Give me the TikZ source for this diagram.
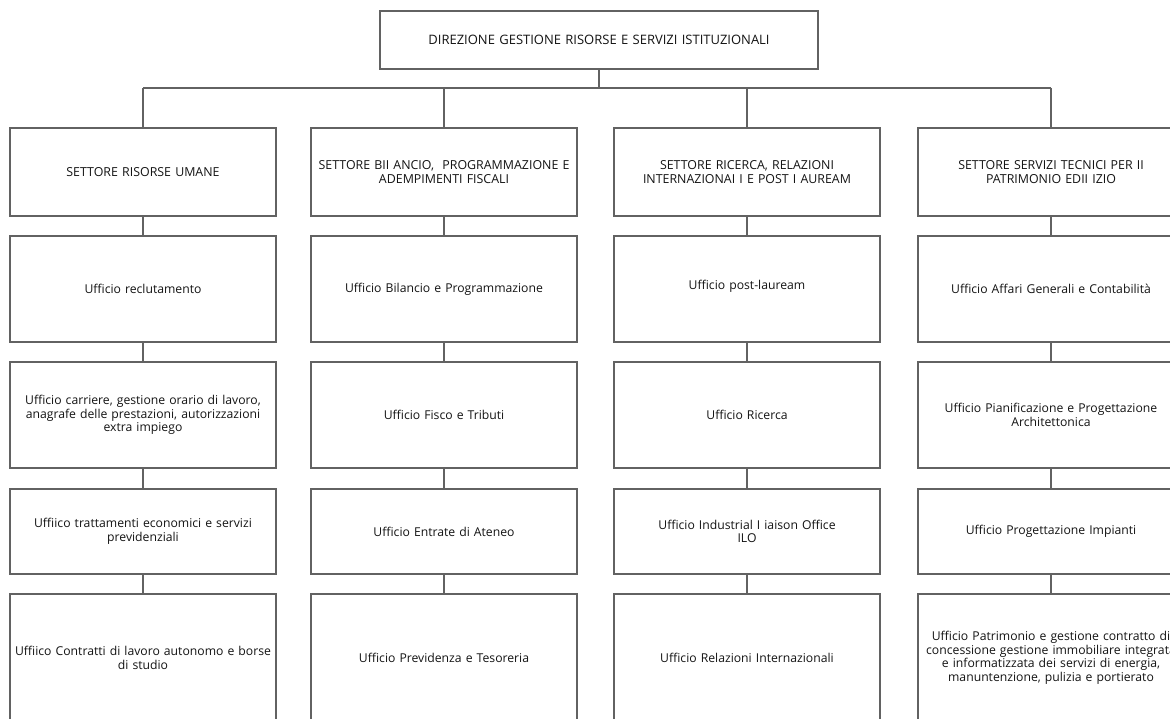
\documentclass[tikz,border=0pt]{standalone}
\usepackage{fontspec}
\setmainfont{Open Sans}
\definecolor{linegray}{HTML}{626262}
\definecolor{txt}{HTML}{141414}
\begin{document}
\begin{tikzpicture}[x=1pt,y=-1pt,
  box/.style={draw=linegray, line width=1.1pt, fill=white, minimum width=266pt, text width=266pt,
    inner sep=0pt, align=center, text=txt, font=\fontsize{12.2}{13.5}\selectfont},
  capbox/.style={box, font=\fontsize{12.4}{13.5}\selectfont},
  conn/.style={draw=linegray, line width=1.1pt}]
\useasboundingbox (0,0) rectangle (1170,719);
\clip (0,0) rectangle (1170,719);
\fill[white] (0,0) rectangle (1170,719);

% top box
\node[capbox, minimum width=438pt, text width=438pt, minimum height=58pt, font=\fontsize{13}{13.5}\selectfont] (top) at (599,40)
  {DIREZIONE GESTIONE RISORSE E SERVIZI ISTITUZIONALI};

% sector boxes
\node[capbox, minimum height=88pt] (s1) at (143,172) {SETTORE RISORSE UMANE};
\node[capbox, minimum height=88pt] (s2) at (444,172) {SETTORE BII ANCIO,\ \ PROGRAMMAZIONE E\\ADEMPIMENTI FISCALI};
\node[capbox, minimum height=88pt] (s3) at (747,172) {SETTORE RICERCA, RELAZIONI\\INTERNAZIONAI I E POST I AUREAM};
\node[capbox, minimum height=88pt] (s4) at (1051,172) {SETTORE SERVIZI TECNICI PER II\\PATRIMONIO EDII IZIO};

% row 1
\node[box, minimum height=106pt] (a1) at (143,289) {Ufficio reclutamento};
\node[box, minimum height=106pt] (a2) at (444,289) {Ufficio Bilancio e Programmazione};
\node[box, minimum height=106pt] (a3) at (747,289) {\raisebox{9pt}{Ufficio post-lauream}};
\node[box, minimum height=106pt] (a4) at (1051,289) {Ufficio Affari Generali e Contabilità};

% row 2
\node[box, minimum height=106pt] (b1) at (143,415) {Ufficio carriere, gestione orario di lavoro,\\anagrafe delle prestazioni, autorizzazioni\\extra impiego};
\node[box, minimum height=106pt] (b2) at (444,415) {Ufficio Fisco e Tributi};
\node[box, minimum height=106pt] (b3) at (747,415) {Ufficio Ricerca};
\node[box, minimum height=106pt] (b4) at (1051,415) {Ufficio Pianificazione e Progettazione\\Architettonica};

% row 3
\node[box, minimum height=85pt] (c1) at (143,531.5) {Uffiico trattamenti economici e servizi\\previdenziali};
\node[box, minimum height=85pt] (c2) at (444,531.5) {Ufficio Entrate di Ateneo};
\node[box, minimum height=85pt] (c3) at (747,531.5) {Ufficio Industrial I iaison Office\\ILO};
\node[box, minimum height=85pt] (c4) at (1051,531.5) {Ufficio Progettazione Impianti};

% row 4
\node[box, minimum height=128pt] (d1) at (143,658) {Uffiico Contratti di lavoro autonomo e borse\\di studio};
\node[box, minimum height=128pt] (d2) at (444,658) {Ufficio Previdenza e Tesoreria};
\node[box, minimum height=128pt] (d3) at (747,658) {Ufficio Relazioni Internazionali};
\node[box, minimum height=128pt] (d4) at (1051,658) {Ufficio Patrimonio e gestione contratto di\\concessione gestione immobiliare integrata\\e informatizzata dei servizi di energia,\\manuntenzione, pulizia e portierato};

% bus
\coordinate (bus1) at (143,88);
\coordinate (bus2) at (444,88);
\coordinate (bus3) at (747,88);
\coordinate (bus4) at (1051,88);
\draw[conn] (top.south) -- (top.south |- bus1);
\draw[conn] (bus1) -- (bus4);
\foreach \i in {1,2,3,4}{
  \draw[conn] (bus\i) -- (s\i.north);
  \draw[conn] (s\i.south) -- (a\i.north);
  \draw[conn] (a\i.south) -- (b\i.north);
  \draw[conn] (b\i.south) -- (c\i.north);
  \draw[conn] (c\i.south) -- (d\i.north);
}
\end{tikzpicture}
\end{document}
